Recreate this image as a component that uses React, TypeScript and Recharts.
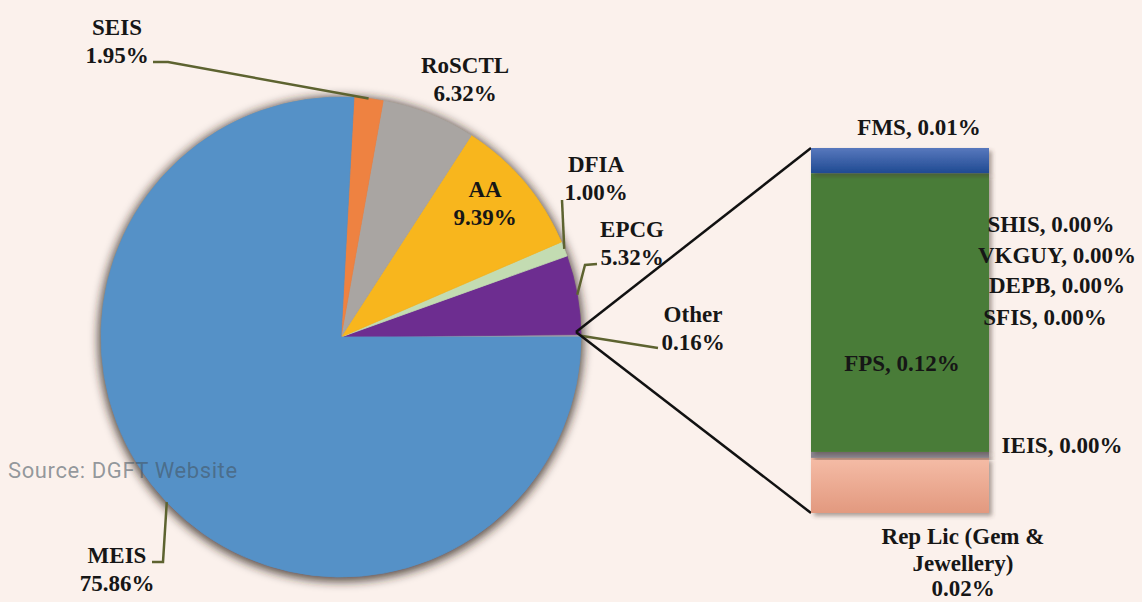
import React from 'react';
import { PieChart, Pie, Cell, BarChart, Bar, XAxis, YAxis, LabelList } from 'recharts';

// main pie, counter-clockwise from 3 o'clock
const PIE_NAMES = ['Other', 'EPCG', 'DFIA', 'AA', 'RoSCTL', 'SEIS', 'MEIS'];
const PIE_VALUES = [0.16, 5.32, 1.0, 9.39, 6.32, 1.95, 75.86];
const PIE_COLORS = ['#a3a3a3', '#6d2d90', '#c3dcb2', '#f8b61d', '#a9a5a2', '#ee8241', '#5591c7'];

// breakdown of "Other", bottom of the stack first
const BAR_NAMES = ['Rep Lic (Gem & Jewellery)', 'IEIS', 'FPS', 'SFIS', 'DEPB', 'VKGUY', 'SHIS', 'FMS'];
const BAR_VALUES = [0.0241, 0.0026, 0.1219, 0, 0, 0, 0, 0.011];
const BAR_FILLS = ['url(#repGrad)', '#8b8690', '#4a7c38', '#4a7c38', '#4a7c38', '#4a7c38', '#4a7c38', 'url(#fmsGrad)'];

const W = 1142;
const H = 602;
const BG = '#fbf1ec';
const PIE_CX = 336;
const PIE_CY = 332;
const PIE_R = 240;
const LEADER = '#5d6330';
const LABEL_FONT = '"Liberation Serif", "Times New Roman", serif';
const LABEL_SIZE = 23;

// label placement relative to pie centre; line = elbow points after the slice edge
const PIE_LABELS: Record<string, { dx: number; dy: number; line?: number[][] }> = {
  SEIS: { dx: -224, dy: -302, line: [[-173, -275], [-188, -275]] },
  RoSCTL: { dx: 124, dy: -264 },
  AA: { dx: 144, dy: -140 },
  DFIA: { dx: 255, dy: -165, line: [[221, -137]] },
  EPCG: { dx: 291, dy: -100, line: [[244, -72], [256, -73]] },
  Other: { dx: 352, dy: -15, line: [[317, 11]] },
  MEIS: { dx: -224, dy: 226, line: [[-178, 225], [-189, 225]] },
};

const pieData = PIE_NAMES.map((name, i) => ({ name, value: PIE_VALUES[i] }));

const barRow: Record<string, any> = { name: 'Other' };
BAR_NAMES.forEach((_, i) => {
  barRow['b' + i] = BAR_VALUES[i];
});
const barData = [barRow];

const pct = (v: number) => v.toFixed(2) + '%';

const renderPieLabel = (props: any) => {
  const { cx, cy, midAngle, outerRadius, index } = props;
  const name = PIE_NAMES[index];
  const lay = PIE_LABELS[name];
  if (!lay) return null;
  const rad = Math.PI / 180;
  const sx = cx + outerRadius * Math.cos(-midAngle * rad);
  const sy = cy + outerRadius * Math.sin(-midAngle * rad);
  const tx = cx + lay.dx;
  const ty = cy + lay.dy;
  let pts = '';
  if (lay.line) {
    pts = [[sx, sy], ...lay.line.map(([dx, dy]) => [cx + dx, cy + dy])].map((p) => p.join(',')).join(' ');
  }
  return (
    <g key={'pl' + index}>
      {lay.line && <polyline points={pts} fill="none" stroke={LEADER} strokeWidth={2.5} />}
      <text x={tx} y={ty} textAnchor="middle" fontFamily={LABEL_FONT} fontWeight="bold" fontSize={LABEL_SIZE} fill="#161616">
        <tspan x={tx}>{name}</tspan>
        <tspan x={tx} dy={28}>{pct(PIE_VALUES[index])}</tspan>
      </text>
    </g>
  );
};

// where each bar label sits, relative to its own segment
const barLabelPos = (name: string, x: number, y: number, w: number, h: number) => {
  const right = x + w;
  const mid = x + w / 2;
  switch (name) {
    case 'FMS':
      return { x: mid + 19, y: y - 13 };
    case 'FPS':
      return { x: mid + 2, y: y + h / 2 + 58 };
    case 'SHIS':
      return { x: right + 62, y: y + 59 };
    case 'VKGUY':
      return { x: right + 68, y: y + 90 };
    case 'DEPB':
      return { x: right + 68, y: y + 120 };
    case 'SFIS':
      return { x: right + 56, y: y + 152 };
    case 'IEIS':
      return { x: right + 73, y: y + 1 };
    default:
      return { x: mid + 63, y: y + h + 31 };
  }
};

const makeBarLabel = (i: number) => (props: any) => {
  const vb = props.viewBox ?? props;
  const { x, y, width, height } = vb;
  const name = BAR_NAMES[i];
  const p = barLabelPos(name, x, y, width, height);
  const common = {
    textAnchor: 'middle' as const,
    fontFamily: LABEL_FONT,
    fontWeight: 'bold',
    fontSize: LABEL_SIZE,
    fill: '#161616',
  };
  if (i === 0) {
    return (
      <text x={p.x} y={p.y} {...common}>
        <tspan x={p.x}>Rep Lic (Gem &amp;</tspan>
        <tspan x={p.x} dy={27}>Jewellery)</tspan>
        <tspan x={p.x} dy={25}>{pct(BAR_VALUES[i])}</tspan>
      </text>
    );
  }
  return (
    <text x={p.x} y={p.y} {...common}>
      {name + ', ' + pct(BAR_VALUES[i])}
    </text>
  );
};

const makeBarShape = (i: number) => (props: any) => {
  const { x, y, width, height } = props;
  const apexX = PIE_CX + PIE_R;
  const isTop = i === BAR_NAMES.length - 1;
  const isBottom = i === 0;
  return (
    <g>
      {isTop && <line x1={apexX} y1={PIE_CY} x2={x} y2={y} stroke="#111" strokeWidth={2.5} />}
      {isBottom && <line x1={apexX} y1={PIE_CY} x2={x} y2={y + height} stroke="#111" strokeWidth={2.5} />}
      {height > 0 && (
        <rect x={x} y={y} width={width} height={height} fill={BAR_FILLS[i]} filter="url(#barShadow)" />
      )}
    </g>
  );
};

export default function App() {
  return (
    <div style={{ position: 'relative', width: W, height: H, background: BG, overflow: 'hidden' }}>
      <style>{'body{margin:0}'}</style>
      <svg width={0} height={0} style={{ position: 'absolute' }}>
        <defs>
          <filter id="pieBlur" x="-20%" y="-20%" width="140%" height="140%">
            <feGaussianBlur stdDeviation="5" />
          </filter>
          <filter id="barShadow" x="-10%" y="-10%" width="130%" height="130%">
            <feDropShadow dx="3" dy="3" stdDeviation="2" floodColor="#4a3a30" floodOpacity="0.45" />
          </filter>
          <linearGradient id="fmsGrad" x1="0" y1="0" x2="0" y2="1">
            <stop offset="0%" stopColor="#5878bd" />
            <stop offset="100%" stopColor="#1f4a92" />
          </linearGradient>
          <linearGradient id="repGrad" x1="0" y1="0" x2="0" y2="1">
            <stop offset="0%" stopColor="#f5bca6" />
            <stop offset="100%" stopColor="#e2997f" />
          </linearGradient>
        </defs>
      </svg>

      <div style={{ position: 'absolute', left: 0, top: 0 }}>
        <PieChart width={W} height={H}>
          <Pie
            data={[{ v: 1 }]}
            dataKey="v"
            cx={PIE_CX}
            cy={PIE_CY + 2}
            outerRadius={PIE_R + 3}
            isAnimationActive={false}
            stroke="none"
            legendType="none"
          >
            <Cell fill="#2e231c" fillOpacity={0.75} filter="url(#pieBlur)" />
          </Pie>
          <Pie
            data={pieData}
            dataKey="value"
            nameKey="name"
            cx={PIE_CX}
            cy={PIE_CY}
            outerRadius={PIE_R}
            startAngle={0}
            endAngle={360}
            isAnimationActive={false}
            labelLine={false}
            label={renderPieLabel}
          >
            {pieData.map((d, i) => (
              <Cell key={d.name} fill={PIE_COLORS[i]} stroke={PIE_COLORS[i]} strokeWidth={0.8} />
            ))}
          </Pie>
        </PieChart>
      </div>

      <div style={{ position: 'absolute', left: 0, top: 0 }}>
        <BarChart
          width={W}
          height={H}
          data={barData}
          margin={{ top: 148, bottom: H - 513, left: 811, right: W - 989 }}
          barCategoryGap={0}
          barGap={0}
        >
          <XAxis dataKey="name" hide />
          <YAxis hide domain={[0, 'dataMax']} />
          {BAR_NAMES.map((name, i) => (
            <Bar
              key={name}
              dataKey={'b' + i}
              name={name}
              stackId="other"
              fill={BAR_FILLS[i]}
              isAnimationActive={false}
              shape={makeBarShape(i)}
            >
              <LabelList dataKey={'b' + i} content={makeBarLabel(i)} />
            </Bar>
          ))}
        </BarChart>
      </div>

      <svg width={W} height={H} style={{ position: 'absolute', left: 0, top: 0, pointerEvents: 'none' }}>
        <text x={8} y={478} fontFamily="Roboto, sans-serif" fontSize={22} letterSpacing={0.6} fill="#44535f" fillOpacity={0.58}>
          Source: DGFT Website
        </text>
      </svg>
    </div>
  );
}
